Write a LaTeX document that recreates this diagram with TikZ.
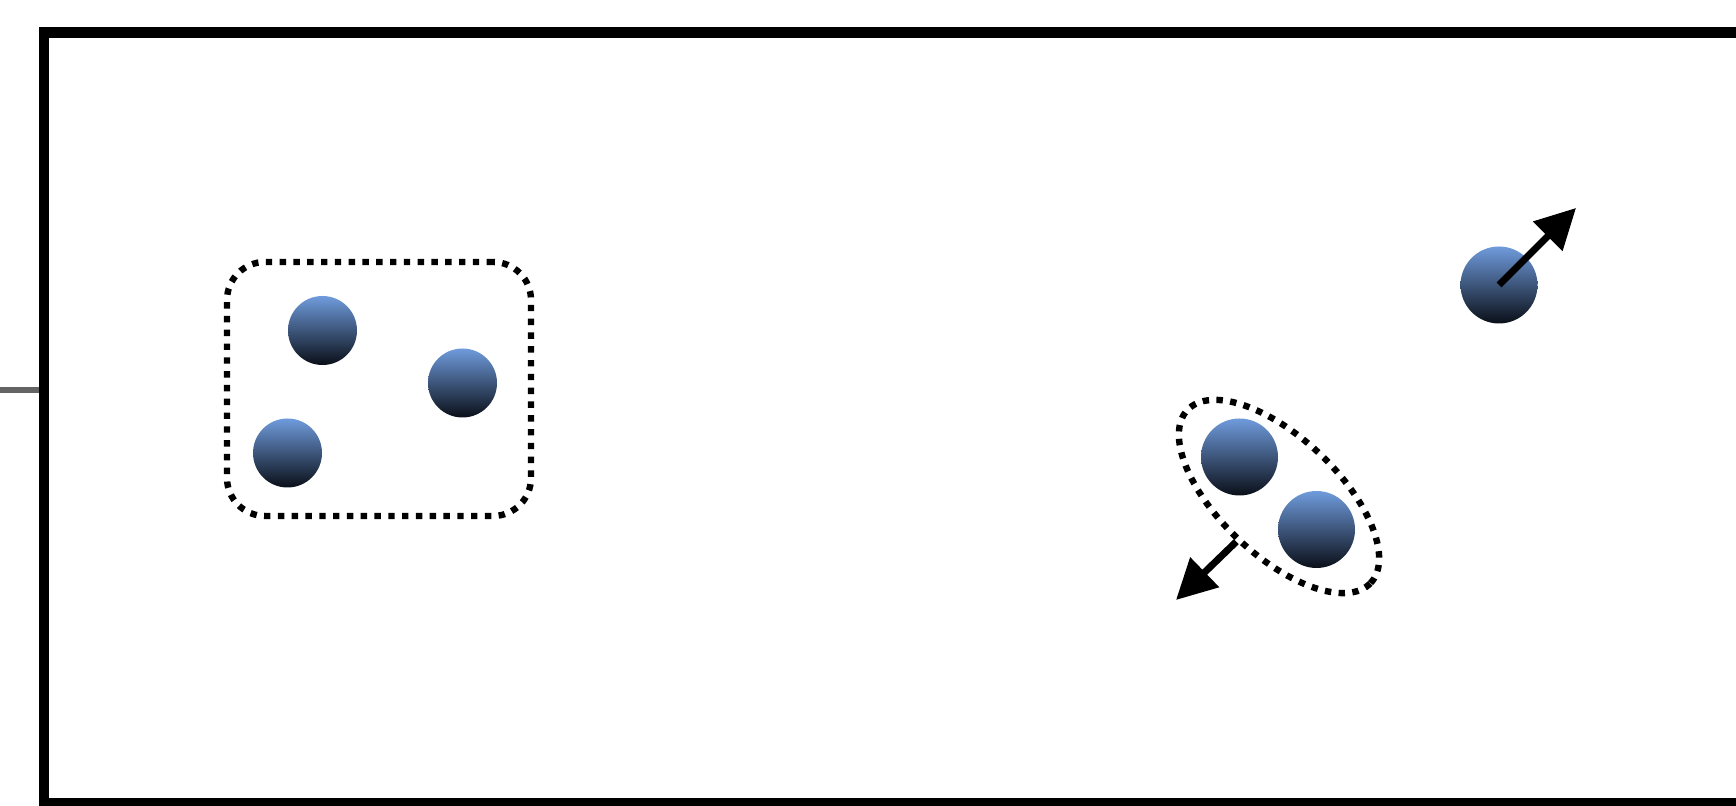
\documentclass[tikz,border=0pt]{standalone}
\usepackage{tikz}
\usetikzlibrary{arrows.meta,shapes.geometric}
\definecolor{PartBlue}{HTML}{6F9BDC}
\definecolor{PartDark}{HTML}{0A0F18}
\definecolor{LeadGray}{HTML}{646464}

\begin{document}
\begin{tikzpicture}[
  x=0.1mm, y=-0.1mm,
  particle/.style={circle, inner sep=0pt, minimum size=6.9mm, top color=PartBlue, bottom color=PartDark},
  bigparticle/.style={particle, minimum size=7.7mm},
  dots/.style={draw=black, line width=0.64mm, dash pattern=on 0.64mm off 0.74mm},
  groupbox/.style={dots, rounded corners=3.8mm, minimum width=30.4mm, minimum height=25.4mm, inner sep=0pt},
  pairbox/.style={dots, ellipse, rotate=-43.4, minimum width=25.2mm, minimum height=11.8mm, inner sep=0pt},
  tankbox/.style={draw=black, line width=1.05mm, minimum width=171.6mm, minimum height=77.05mm, inner sep=0pt},
  lead/.style={draw=LeadGray, line width=0.6mm},
  arrow/.style={-{Triangle[length=4mm,width=4mm]}, line width=0.7mm, black}
]
\clip (0,0) rectangle (1736,806);
\node[tankbox] (tank) at (902,417.75) {};
\coordinate (leadin) at (0,390.5);
\draw[lead] (leadin) -- (leadin -| tank.west);

\node[groupbox] (cluster) at (379,389) {};
\node[particle] (p1) at (322.5,330.5) {};
\node[particle] (p2) at (462.5,383) {};
\node[particle] (p3) at (287.5,453) {};

\node[bigparticle] (free) at (1499,285) {};
\coordinate (freetip) at (1576,208);
\draw[arrow] (free.center) -- (freetip);

\node[pairbox] (pair) at (1279,496.5) {};
\node[bigparticle] (pa) at (1239.5,457) {};
\node[bigparticle] (pb) at (1316.5,529.5) {};
\coordinate (pairtip) at (1176,600);
\draw[arrow] (pair.south) -- (pairtip);
\end{tikzpicture}
\end{document}
